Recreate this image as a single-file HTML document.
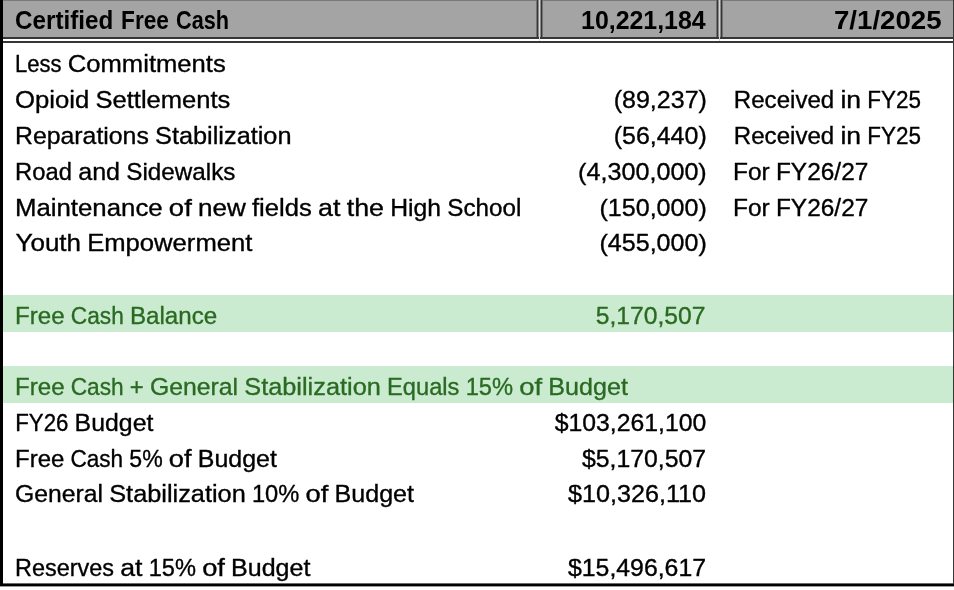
<!DOCTYPE html>
<html><head><meta charset="utf-8">
<style>
html,body{margin:0;padding:0;background:#fff;width:954px;height:590px;overflow:hidden}
svg{display:block;filter:blur(0.45px)}
text{font-family:"Liberation Sans",sans-serif;font-size:24.7px}
</style></head><body>
<svg width="954" height="590" viewBox="0 0 954 590" shape-rendering="crispEdges">
<rect x="0" y="0" width="954" height="590" fill="#fff"/>
<!-- header fill -->
<rect x="0" y="0" width="954" height="37" fill="#a4a4a4"/>
<rect x="0" y="0" width="954" height="1" fill="#7a7a7a"/>
<!-- header double bottom border -->
<rect x="536" y="0" width="1" height="37" fill="#727272"/>
<rect x="538" y="0" width="1" height="37" fill="#888"/>
<rect x="540" y="0" width="1" height="37" fill="#888"/>
<rect x="542" y="0" width="1" height="37" fill="#727272"/>
<rect x="716" y="0" width="1" height="37" fill="#727272"/>
<rect x="718" y="0" width="1" height="37" fill="#888"/>
<rect x="720" y="0" width="1" height="37" fill="#888"/>
<rect x="722" y="0" width="1" height="37" fill="#727272"/>
<rect x="0" y="37" width="954" height="2" fill="#363636"/>
<rect x="0" y="39" width="954" height="2" fill="#ffffff"/>
<rect x="0" y="41" width="954" height="2" fill="#363636"/>
<rect x="537" y="0" width="1" height="39" fill="#363636"/>
<rect x="541" y="0" width="1" height="39" fill="#363636"/>
<rect x="539" y="0" width="1" height="41" fill="#dadada"/>
<rect x="717" y="0" width="1" height="39" fill="#363636"/>
<rect x="721" y="0" width="1" height="39" fill="#363636"/>
<rect x="719" y="0" width="1" height="41" fill="#d4d4d4"/>
<!-- green bands -->
<rect x="3" y="295" width="950" height="37" fill="#cbebd0"/>
<rect x="3" y="366" width="950" height="37" fill="#cbebd0"/>
<!-- outer borders -->
<rect x="0" y="0" width="3" height="586" fill="#000"/>
<rect x="0" y="583" width="954" height="1" fill="#6a6a6a"/>
<rect x="0" y="584" width="954" height="2" fill="#000"/>
<rect x="0" y="586" width="954" height="1" fill="#9a9a9a"/>
<rect x="0" y="583" width="3" height="3" fill="#000"/>
<rect x="953" y="0" width="1" height="584" fill="#363636"/>
<g shape-rendering="auto">
<text transform="translate(15.08 29.00) scale(0.9206 1)" fill="#000" font-weight="bold" style="font-size:26.3px">Certified</text>
<text transform="translate(121.04 29.00) scale(0.8624 1)" fill="#000" font-weight="bold" style="font-size:26.3px">Free</text>
<text transform="translate(176.08 29.00) scale(0.8242 1)" fill="#000" font-weight="bold" style="font-size:26.3px">Cash</text>
<text transform="translate(581.05 29.00) scale(0.9467 1)" fill="#000" font-weight="bold" style="font-size:26.3px">10,221,184</text>
<text transform="translate(833.95 29.00) scale(1.0522 1)" fill="#000" font-weight="bold" style="font-size:26.3px">7/1/2025</text>
<text transform="translate(15.01 72.00) scale(0.8927 1)" fill="#000" stroke="#000" stroke-width="0.35">Less</text>
<text transform="translate(67.76 72.00) scale(1.0377 1)" fill="#000" stroke="#000" stroke-width="0.35">Commitments</text>
<text transform="translate(14.96 108.00) scale(1.0409 1)" fill="#000" stroke="#000" stroke-width="0.35">Opioid</text>
<text transform="translate(95.46 108.00) scale(1.0348 1)" fill="#000" stroke="#000" stroke-width="0.35">Settlements</text>
<text transform="translate(613.69 108.00) scale(1.0142 1)" fill="#000" stroke="#000" stroke-width="0.35">(89,237)</text>
<text transform="translate(733.85 108.00) scale(0.9752 1)" fill="#000" stroke="#000" stroke-width="0.35">Received</text>
<text transform="translate(840.41 108.00) scale(1.0759 1)" fill="#000" stroke="#000" stroke-width="0.35">in</text>
<text transform="translate(867.28 108.00) scale(0.9099 1)" fill="#000" stroke="#000" stroke-width="0.35">FY25</text>
<text transform="translate(14.99 144.00) scale(1.0054 1)" fill="#000" stroke="#000" stroke-width="0.35">Reparations</text>
<text transform="translate(155.03 144.00) scale(1.0256 1)" fill="#000" stroke="#000" stroke-width="0.35">Stabilization</text>
<text transform="translate(613.69 144.00) scale(1.0119 1)" fill="#000" stroke="#000" stroke-width="0.35">(56,440)</text>
<text transform="translate(733.85 144.00) scale(0.9752 1)" fill="#000" stroke="#000" stroke-width="0.35">Received</text>
<text transform="translate(840.41 144.00) scale(1.0759 1)" fill="#000" stroke="#000" stroke-width="0.35">in</text>
<text transform="translate(867.28 144.00) scale(0.9099 1)" fill="#000" stroke="#000" stroke-width="0.35">FY25</text>
<text transform="translate(15.07 180.00) scale(0.9638 1)" fill="#000" stroke="#000" stroke-width="0.35">Road</text>
<text transform="translate(78.15 180.00) scale(1.0183 1)" fill="#000" stroke="#000" stroke-width="0.35">and</text>
<text transform="translate(126.29 180.00) scale(0.9820 1)" fill="#000" stroke="#000" stroke-width="0.35">Sidewalks</text>
<text transform="translate(578.08 180.00) scale(1.0190 1)" fill="#000" stroke="#000" stroke-width="0.35">(4,300,000)</text>
<text transform="translate(733.02 180.00) scale(0.9912 1)" fill="#000" stroke="#000" stroke-width="0.35">For</text>
<text transform="translate(775.94 180.00) scale(0.9899 1)" fill="#000" stroke="#000" stroke-width="0.35">FY26/27</text>
<text transform="translate(14.91 216.00) scale(1.0450 1)" fill="#000" stroke="#000" stroke-width="0.35">Maintenance</text>
<text transform="translate(168.86 216.00) scale(1.1120 1)" fill="#000" stroke="#000" stroke-width="0.35">of</text>
<text transform="translate(197.97 216.00) scale(1.0553 1)" fill="#000" stroke="#000" stroke-width="0.35">new</text>
<text transform="translate(251.98 216.00) scale(1.0394 1)" fill="#000" stroke="#000" stroke-width="0.35">fields</text>
<text transform="translate(318.10 216.00) scale(1.0873 1)" fill="#000" stroke="#000" stroke-width="0.35">at</text>
<text transform="translate(346.70 216.00) scale(1.0882 1)" fill="#000" stroke="#000" stroke-width="0.35">the</text>
<text transform="translate(390.27 216.00) scale(1.0013 1)" fill="#000" stroke="#000" stroke-width="0.35">High</text>
<text transform="translate(447.32 216.00) scale(0.9808 1)" fill="#000" stroke="#000" stroke-width="0.35">School</text>
<text transform="translate(599.49 216.00) scale(1.0149 1)" fill="#000" stroke="#000" stroke-width="0.35">(150,000)</text>
<text transform="translate(733.02 216.00) scale(0.9912 1)" fill="#000" stroke="#000" stroke-width="0.35">For</text>
<text transform="translate(775.94 216.00) scale(0.9899 1)" fill="#000" stroke="#000" stroke-width="0.35">FY26/27</text>
<text transform="translate(15.50 251.00) scale(1.0522 1)" fill="#000" stroke="#000" stroke-width="0.35">Youth</text>
<text transform="translate(87.17 251.00) scale(1.0385 1)" fill="#000" stroke="#000" stroke-width="0.35">Empowerment</text>
<text transform="translate(599.49 251.00) scale(1.0149 1)" fill="#000" stroke="#000" stroke-width="0.35">(455,000)</text>
<text transform="translate(15.05 324.00) scale(0.9756 1)" fill="#2a6a22" stroke="#2a6a22" stroke-width="0.35">Free</text>
<text transform="translate(70.78 324.00) scale(0.9191 1)" fill="#2a6a22" stroke="#2a6a22" stroke-width="0.35">Cash</text>
<text transform="translate(129.96 324.00) scale(0.9781 1)" fill="#2a6a22" stroke="#2a6a22" stroke-width="0.35">Balance</text>
<text transform="translate(595.70 324.00) scale(1.0000 1)" fill="#2a6a22" stroke="#2a6a22" stroke-width="0.35">5,170,507</text>
<text transform="translate(15.05 395.00) scale(0.9748 1)" fill="#2a6a22" stroke="#2a6a22" stroke-width="0.35">Free</text>
<text transform="translate(70.74 395.00) scale(0.9183 1)" fill="#2a6a22" stroke="#2a6a22" stroke-width="0.35">Cash</text>
<text transform="translate(129.87 395.00) scale(0.9647 1)" fill="#2a6a22" stroke="#2a6a22" stroke-width="0.35">+</text>
<text transform="translate(149.98 395.00) scale(1.0025 1)" fill="#2a6a22" stroke="#2a6a22" stroke-width="0.35">General</text>
<text transform="translate(244.23 395.00) scale(1.0263 1)" fill="#2a6a22" stroke="#2a6a22" stroke-width="0.35">Stabilization</text>
<text transform="translate(387.05 395.00) scale(0.9592 1)" fill="#2a6a22" stroke="#2a6a22" stroke-width="0.35">Equals</text>
<text transform="translate(465.66 395.00) scale(0.9597 1)" fill="#2a6a22" stroke="#2a6a22" stroke-width="0.35">15%</text>
<text transform="translate(519.28 395.00) scale(1.1096 1)" fill="#2a6a22" stroke="#2a6a22" stroke-width="0.35">of</text>
<text transform="translate(548.33 395.00) scale(1.0163 1)" fill="#2a6a22" stroke="#2a6a22" stroke-width="0.35">Budget</text>
<text transform="translate(15.19 431.00) scale(0.9028 1)" fill="#000" stroke="#000" stroke-width="0.35">FY26</text>
<text transform="translate(74.61 431.00) scale(1.0064 1)" fill="#000" stroke="#000" stroke-width="0.35">Budget</text>
<text transform="translate(554.70 431.00) scale(1.0034 1)" fill="#000" stroke="#000" stroke-width="0.35">$103,261,100</text>
<text transform="translate(15.06 467.00) scale(0.9700 1)" fill="#000" stroke="#000" stroke-width="0.35">Free</text>
<text transform="translate(70.47 467.00) scale(0.9138 1)" fill="#000" stroke="#000" stroke-width="0.35">Cash</text>
<text transform="translate(129.31 467.00) scale(0.9345 1)" fill="#000" stroke="#000" stroke-width="0.35">5%</text>
<text transform="translate(168.82 467.00) scale(1.1041 1)" fill="#000" stroke="#000" stroke-width="0.35">of</text>
<text transform="translate(197.73 467.00) scale(1.0113 1)" fill="#000" stroke="#000" stroke-width="0.35">Budget</text>
<text transform="translate(582.00 467.00) scale(1.0038 1)" fill="#000" stroke="#000" stroke-width="0.35">$5,170,507</text>
<text transform="translate(15.00 502.00) scale(1.0019 1)" fill="#000" stroke="#000" stroke-width="0.35">General</text>
<text transform="translate(109.20 502.00) scale(1.0258 1)" fill="#000" stroke="#000" stroke-width="0.35">Stabilization</text>
<text transform="translate(251.95 502.00) scale(0.9592 1)" fill="#000" stroke="#000" stroke-width="0.35">10%</text>
<text transform="translate(305.54 502.00) scale(1.1090 1)" fill="#000" stroke="#000" stroke-width="0.35">of</text>
<text transform="translate(334.57 502.00) scale(1.0158 1)" fill="#000" stroke="#000" stroke-width="0.35">Budget</text>
<text transform="translate(568.00 502.00) scale(1.0191 1)" fill="#000" stroke="#000" stroke-width="0.35">$10,326,110</text>
<text transform="translate(15.10 576.00) scale(0.9491 1)" fill="#000" stroke="#000" stroke-width="0.35">Reserves</text>
<text transform="translate(120.25 576.00) scale(1.0813 1)" fill="#000" stroke="#000" stroke-width="0.35">at</text>
<text transform="translate(148.69 576.00) scale(0.9565 1)" fill="#000" stroke="#000" stroke-width="0.35">15%</text>
<text transform="translate(202.14 576.00) scale(1.1060 1)" fill="#000" stroke="#000" stroke-width="0.35">of</text>
<text transform="translate(231.09 576.00) scale(1.0130 1)" fill="#000" stroke="#000" stroke-width="0.35">Budget</text>
<text transform="translate(568.00 576.00) scale(1.0054 1)" fill="#000" stroke="#000" stroke-width="0.35">$15,496,617</text>
</g>
</svg>
</body></html>
